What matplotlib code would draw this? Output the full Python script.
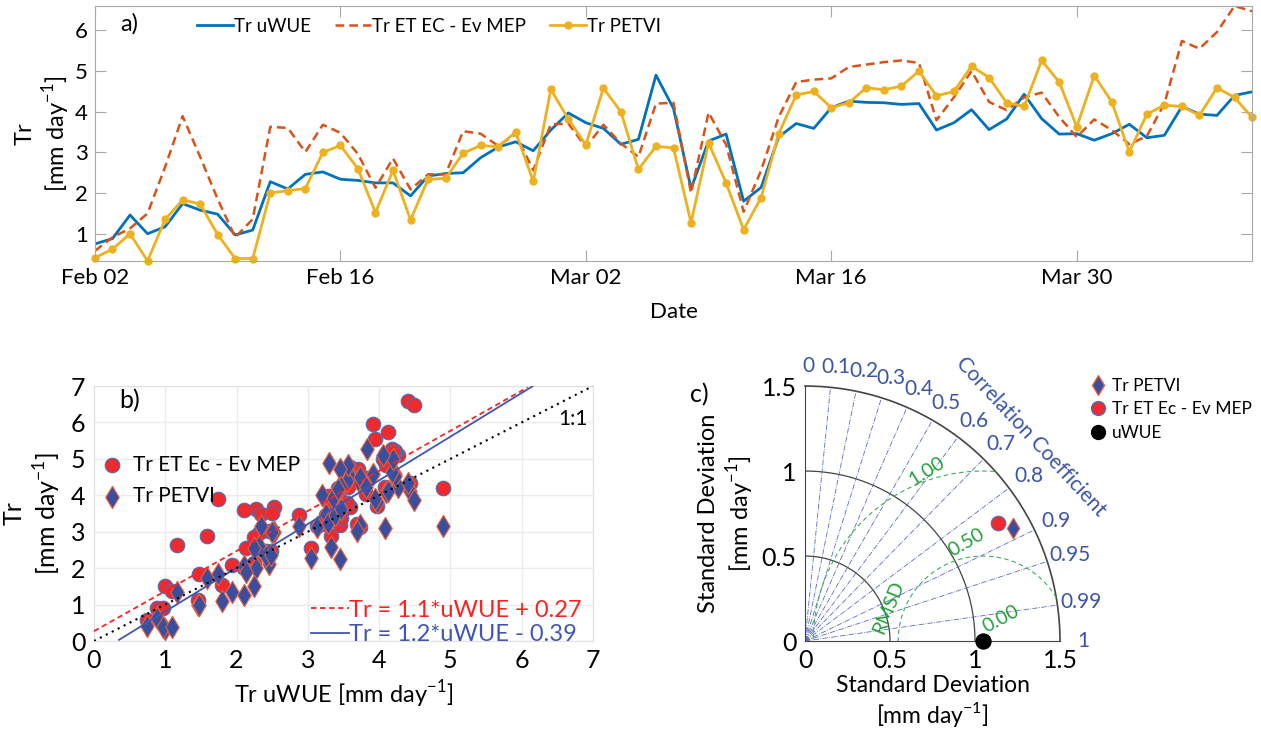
import numpy as np
import pandas as pd
import matplotlib
matplotlib.use("Agg")
import matplotlib.pyplot as plt
import matplotlib.dates as mdates
from matplotlib.lines import Line2D

plt.rcParams['font.family'] = ['Lato', 'DejaVu Sans']
plt.rcParams['mathtext.fontset'] = 'custom'
plt.rcParams['mathtext.rm'] = 'Lato'

# daily transpiration [mm/day], Feb 02 - Apr 09
uwue = [0.75, 0.88, 1.46, 1.0, 1.17, 1.74, 1.58, 1.48, 0.97, 1.09,
        2.28, 2.1, 2.46, 2.52, 2.34, 2.31, 2.25, 2.25, 1.93, 2.42,
        2.48, 2.5, 2.87, 3.13, 3.26, 3.04, 3.55, 3.97, 3.73, 3.59,
        3.2, 3.32, 4.9, 4.08, 2.11, 3.28, 3.45, 1.8, 2.14, 3.38,
        3.71, 3.59, 4.1, 4.26, 4.23, 4.22, 4.18, 4.2, 3.55, 3.73,
        4.05, 3.56, 3.82, 4.43, 3.83, 3.45, 3.46, 3.3, 3.46, 3.69,
        3.36, 3.42, 4.13, 3.94, 3.91, 4.4, 4.49]
mep = [0.58, 0.91, 1.13, 1.5, 2.64, 3.89, 2.89, 1.85, 0.91, 1.36,
       3.63, 3.6, 3.01, 3.68, 3.48, 2.96, 2.13, 2.85, 2.09, 2.46,
       2.46, 3.52, 3.46, 3.16, 3.45, 2.56, 3.69, 3.71, 3.13, 3.68,
       3.22, 2.89, 4.2, 4.22, 2.0, 3.98, 3.19, 1.54, 2.56, 3.87,
       4.73, 4.79, 4.82, 5.1, 5.16, 5.22, 5.26, 5.2, 3.79, 4.36,
       5.0, 4.24, 4.04, 4.35, 4.47, 3.87, 3.38, 3.81, 3.55, 3.2,
       3.4, 4.2, 5.74, 5.55, 5.96, 6.6, 6.47]
petvi = [0.41, 0.62, 1.0, 0.33, 1.35, 1.83, 1.73, 0.98, 0.39, 0.39,
         2.0, 2.06, 2.11, 3.0, 3.17, 2.6, 1.52, 2.56, 1.34, 2.34,
         2.36, 2.98, 3.17, 3.14, 3.5, 2.29, 4.55, 3.82, 3.18, 4.58,
         4.0, 2.58, 3.15, 3.11, 1.27, 3.23, 2.25, 1.1, 1.89, 3.46,
         4.41, 4.5, 4.1, 4.22, 4.59, 4.54, 4.63, 5.0, 4.39, 4.5,
         5.12, 4.84, 4.22, 4.13, 5.26, 4.73, 3.63, 4.89, 4.24, 3.01,
         3.94, 4.16, 4.13, 3.91, 4.59, 4.35, 3.86]
dates = pd.date_range('2019-02-02', periods=len(uwue), freq='D')

# regression fits (slope, intercept) shown in panel b
fit_mep = (1.1, 0.27)
fit_petvi = (1.2, -0.39)

# taylor diagram stats: std [mm/day] and correlation
taylor_names = ['Tr PETVI', 'Tr ET Ec - Ev MEP', 'uWUE']
taylor_std = [1.39, 1.33, 1.048]
taylor_corr = [0.879, 0.852, 1.0]
corr_ticks = [0, 0.1, 0.2, 0.3, 0.4, 0.5, 0.6, 0.7, 0.8, 0.9, 0.95, 0.99, 1]
rmsd_levels = [0.0, 0.5, 1.0]

c_blue = '#0072BD'
c_orange = '#D95319'
c_yellow = '#EDB120'
c_red = '#EE2A2E'
c_navy = '#3A4E9E'
c_grey = '#A8A8A8'

fig = plt.figure(figsize=(12.61, 7.31), dpi=100)

# ---------------- a) time series
ax1 = fig.add_axes([0.0753, 0.643, 0.9176, 0.3488])
ax1.plot(dates, uwue, color=c_blue, lw=2, label='Tr uWUE')
ax1.plot(dates, mep, color=c_orange, lw=1.8, ls=(0, (3.5, 2)), label='Tr ET EC - Ev MEP')
ax1.plot(dates, petvi, color=c_yellow, lw=2, marker='o', ms=5, label='Tr PETVI', clip_on=False)
ax1.set_xlim(dates[0], dates[-1])
ax1.set_ylim(0.33, 6.6)
ax1.set_yticks([1, 2, 3, 4, 5, 6])
ax1.set_xticks(pd.date_range('2019-02-02', '2019-03-30', freq='14D'))
ax1.xaxis.set_major_formatter(mdates.DateFormatter('%b %d'))
ax1.tick_params(direction='in', length=8, top=True, right=True, colors=c_grey,
                labelcolor='black', labelsize=16, pad=5)
for s in ax1.spines.values():
    s.set_color(c_grey)
ax1.set_xlabel('Date', fontsize=16, labelpad=10)
ax1.set_ylabel('Tr\n[mm day$^{-1}$]', fontsize=17, linespacing=1.2, labelpad=2)
ax1.text(0.022, 0.93, 'a)', transform=ax1.transAxes, fontsize=17, va='center')
ax1.legend(loc='upper left', bbox_to_anchor=(0.074, 1.02), ncol=3, frameon=False,
           fontsize=13.5, handlelength=1.9, handletextpad=0.05, columnspacing=1.3)

# ---------------- b) scatter
ax2 = fig.add_axes([0.0745, 0.1231, 0.3957, 0.3488])
ax2.scatter(uwue, mep, s=110, marker='o', color=c_red, edgecolors='#4A6FB5',
            linewidths=0.8, zorder=3, label='Tr ET Ec - Ev MEP')
ax2.scatter(uwue, petvi, s=130, marker='d', color=c_navy, edgecolors='#E8603C',
            linewidths=0.8, zorder=3, label='Tr PETVI')
xx = np.linspace(0, 7, 200)
ym = fit_mep[0] * xx + fit_mep[1]
yp = fit_petvi[0] * xx + fit_petvi[1]
l1, = ax2.plot(xx[ym <= 7], ym[ym <= 7], color='#FF2020', ls=(0, (3, 2)), lw=1.3, zorder=4)
l2, = ax2.plot(xx[(yp >= 0) & (yp <= 7)], yp[(yp >= 0) & (yp <= 7)], color='#3F57B0', lw=1.3, zorder=4)
ax2.plot([0, 7], [0, 7], color='black', ls=(0, (1, 2.2)), lw=1.5, zorder=4)
ax2.text(6.72, 6.1, '1:1', fontsize=15, ha='center', va='center')
ax2.text(0.35, 6.6, 'b)', fontsize=18, va='center')
ax2.set_xlim(0, 7)
ax2.set_ylim(0, 7)
ax2.set_xticks(range(8))
ax2.set_yticks(range(8))
ax2.grid(color='#EBEBEB', lw=1)
ax2.set_axisbelow(True)
ax2.tick_params(length=0, labelsize=18, pad=6)
for s in ax2.spines.values():
    s.set_color('#E0E0E0')
ax2.set_xlabel('Tr uWUE [mm day$^{-1}$]', fontsize=17, labelpad=4)
ax2.set_ylabel('Tr\n[mm day$^{-1}$]', fontsize=18, linespacing=1.25, labelpad=6)
leg1 = ax2.legend(loc='upper left', bbox_to_anchor=(-0.03, 0.78), frameon=False, fontsize=15,
                  handletextpad=0.0, labelspacing=0.55, borderaxespad=0.2)
ax2.add_artist(leg1)
lbl_m = 'Tr = %.1f*uWUE + %.2f' % fit_mep
lbl_p = 'Tr = %.1f*uWUE - %.2f' % (fit_petvi[0], -fit_petvi[1])
leg2 = ax2.legend([l1, l2], [lbl_m, lbl_p], loc='lower right', bbox_to_anchor=(1.02, -0.1),
                  frameon=False, fontsize=17, handlelength=1.6, handletextpad=0.0,
                  labelspacing=0.15)
leg2.get_texts()[0].set_color('#FF2020')
leg2.get_texts()[1].set_color('#3F57B0')

# ---------------- c) taylor diagram
ax3 = fig.add_axes([0.6384, 0.1231, 0.2022, 0.3488])
ax3.set_xlim(0, 1.5)
ax3.set_ylim(0, 1.5)
ax3.set_aspect('equal')
th = np.linspace(0, np.pi / 2, 200)
for r in [0.5, 1.0]:
    ax3.plot(r * np.cos(th), r * np.sin(th), color='#444444', lw=0.9)
ax3.plot(1.5 * np.cos(th), 1.5 * np.sin(th), color='#444444', lw=1.2, clip_on=False)
for c in corr_ticks:
    a = np.arccos(c)
    if 0 < c < 1:
        ax3.plot([0, 1.5 * np.cos(a)], [0, 1.5 * np.sin(a)], color='#5A6CC0',
                 lw=0.6, ls='-.')
    ax3.text(1.62 * np.cos(a) + 0.02, 1.62 * np.sin(a), ('%g' % c), color='#3A55A8',
             fontsize=15, ha='center', va='center')
ref = taylor_std[2]
ph = np.linspace(0, np.pi, 400)
for rr in rmsd_levels[1:]:
    x = ref + rr * np.cos(ph)
    y = rr * np.sin(ph)
    keep = np.hypot(x, y) <= 1.5
    ax3.plot(x[keep], y[keep], color='#3DAE5A', lw=0.8, ls=(0, (4, 3)))
ax3.text(1.15, 0.13, '0.00', color='#22A03A', fontsize=14, rotation=28, ha='center', va='center')
ax3.text(0.95, 0.58, '0.50', color='#22A03A', fontsize=14, rotation=30, ha='center', va='center')
ax3.text(0.72, 1.0, '1.00', color='#22A03A', fontsize=14, rotation=32, ha='center', va='center')
ax3.text(0.49, 0.2, 'RMSD', color='#22A03A', fontsize=14, rotation=68, ha='center', va='center')
ax3.text(1.33, 1.2, 'Correlation Coefficient', color='#3A55A8', fontsize=15,
         rotation=-47, ha='center', va='center')
mk = ['d', 'o', 'o']
fc = [c_navy, c_red, 'black']
ec = ['#E8603C', '#4A6FB5', 'black']
sz = [110, 110, 120]
handles = []
for i in range(3):
    xs = taylor_std[i] * taylor_corr[i]
    ys = taylor_std[i] * np.sqrt(1 - taylor_corr[i] ** 2)
    ax3.scatter(xs, ys, s=sz[i], marker=mk[i], color=fc[i], edgecolors=ec[i],
                linewidths=0.8, zorder=5, clip_on=False)
    handles.append(Line2D([], [], ls='none', marker=mk[i], ms=10, mfc=fc[i], mec=ec[i]))
for s in ['top', 'right']:
    ax3.spines[s].set_visible(False)
for s in ['left', 'bottom']:
    ax3.spines[s].set_color('#444444')
ax3.set_xticks([0, 0.5, 1, 1.5])
ax3.set_yticks([0, 0.5, 1, 1.5])
ax3.set_xticklabels(['0', '0.5', '1', '1.5'])
ax3.set_yticklabels(['0', '0.5', '1', '1.5'])
ax3.tick_params(length=0, labelsize=18, pad=6)
ax3.set_xlabel('Standard Deviation\n[mm day$^{-1}$]', fontsize=16.5, linespacing=1.15, labelpad=2)
ax3.set_ylabel('Standard Deviation\n[mm day$^{-1}$]', fontsize=17, linespacing=1.2)
ax3.legend(handles, taylor_names, loc='upper left', bbox_to_anchor=(1.08, 1.06),
           frameon=False, fontsize=12.5, handlelength=1.2, handletextpad=0.2,
           labelspacing=0.45, borderaxespad=0.0)
fig.text(0.547, 0.46, 'c)', fontsize=18, va='center')

fig.savefig('out.png', dpi=100)
